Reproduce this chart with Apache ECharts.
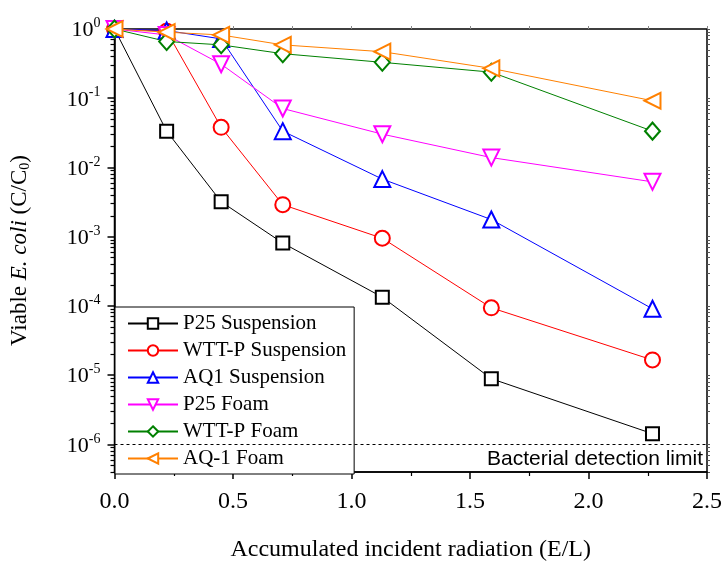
<!DOCTYPE html>
<html>
<head>
<meta charset="utf-8">
<script src="https://cdn.jsdelivr.net/npm/echarts@6/dist/echarts.min.js"></script>
<style>
  html, body { margin: 0; padding: 0; background: #fff; }
  #chart { width: 725px; height: 567px; }
</style>
</head>
<body>
<div id="chart"></div>
<script>
// radiation dose (E/L)
var doses = [0, 0.22, 0.45, 0.71, 1.13, 1.59, 2.27];

// viable fraction C/C0 per sample
var p25Susp = [1, 0.0335, 3.2e-3, 8.1e-4, 1.34e-4, 8.9e-6, 1.43e-6];
var wttSusp = [1, 0.93, 0.038, 2.9e-3, 9.5e-4, 9.4e-5, 1.66e-5];
var aq1Susp = [1, 0.95, 0.72, 0.0335, 6.8e-3, 1.77e-3, 9.1e-5];
var p25Foam = [1, 0.82, 0.31, 0.071, 0.0303, 0.0139, 6.2e-3];
var wttFoam = [1, 0.66, 0.59, 0.44, 0.33, 0.238, 0.0335];
var aq1Foam = [1, 0.9, 0.82, 0.59, 0.47, 0.27, 0.092];

var detectionLimit = 1e-6;
var decades = [1e-6, 1e-5, 1e-4, 1e-3, 1e-2, 1e-1, 1];
var xMin = 0, xMax = 2.5;
var yMin = 4e-7, yMax = 1;

// log minor tick positions (2..9 in every decade)
var minorVals = [];
for (var d = -7; d < 0; d++) {
  for (var m = 2; m <= 9; m++) {
    var v = m * Math.pow(10, d);
    if (v >= yMin && v <= yMax) minorVals.push(v);
  }
}

function pairs(ys) {
  return doses.map(function (x, i) { return [x, ys[i]]; });
}

var serif = 'Liberation Serif';

function mkSeries(name, ys, color, symbol, size, rotate) {
  return {
    name: name,
    type: 'line',
    data: pairs(ys),
    symbol: symbol,
    symbolSize: size,
    symbolRotate: rotate || 0,
    lineStyle: { color: color, width: 1 },
    itemStyle: { color: color, borderColor: color, borderWidth: 1.2 },
    emphasis: { disabled: true },
    z: 3
  };
}

var series = [
  mkSeries('P25 Suspension', p25Susp, '#000000', 'emptyRect', 13),
  mkSeries('WTT-P Suspension', wttSusp, '#ff0000', 'emptyCircle', 15),
  mkSeries('AQ1 Suspension', aq1Susp, '#0000ff', 'emptyTriangle', 16),
  mkSeries('P25 Foam', p25Foam, '#ff00ff', 'emptyTriangle', 16, 180),
  mkSeries('WTT-P Foam', wttFoam, '#008000', 'emptyDiamond', [15, 17]),
  mkSeries('AQ-1 Foam', aq1Foam, '#ff8000', 'emptyTriangle', 16, 90)
];

// detection limit line
series[0].markLine = {
  silent: true,
  animation: false,
  symbol: ['none', 'none'],
  lineStyle: { color: '#000', type: [3, 3], width: 1 },
  label: {
    show: true,
    position: 'insideEndBottom',
    formatter: 'Bacterial detection limit',
    fontFamily: 'Liberation Sans',
    fontSize: 21,
    color: '#000',
    distance: [4, 4]
  },
  data: [[{ coord: [xMin, detectionLimit] }, { coord: [xMax, detectionLimit] }]]
};

var chart = echarts.init(document.getElementById('chart'));

chart.setOption({
  backgroundColor: '#fff',
  animation: false,
  grid: {
    left: 109, right: 18, top: 29, bottom: 87,
    show: true, borderColor: '#000', borderWidth: 1.5
  },
  legend: {
    orient: 'vertical',
    left: 115,
    top: 307,
    backgroundColor: '#fff',
    borderColor: '#000',
    borderWidth: 1,
    borderRadius: 0,
    padding: [6, 8, 5, 12],
    itemWidth: 50,
    itemHeight: 13,
    itemGap: 6,
    textStyle: { fontFamily: serif, fontSize: 21, color: '#000' },
    data: series.map(function (s) { return s.name; })
  },
  xAxis: [{
    type: 'value',
    min: xMin, max: xMax, interval: 0.5,
    name: 'Accumulated incident radiation (E/L)',
    nameLocation: 'middle',
    nameGap: 66,
    nameTextStyle: { fontFamily: serif, fontSize: 24, color: '#000' },
    axisLine: { show: true, lineStyle: { color: '#000', width: 1.5 } },
    axisTick: { show: true, inside: false, length: 7, lineStyle: { color: '#000', width: 1.5 } },
    minorTick: { show: true, splitNumber: 2, length: 4, lineStyle: { color: '#000', width: 1.2 } },
    splitLine: { show: false },
    axisLabel: {
      margin: 18,
      fontFamily: serif, fontSize: 24, color: '#000',
      formatter: function (v) { return v.toFixed(1); }
    }
  }, {
    type: 'value',
    position: 'top',
    min: xMin, max: xMax, interval: 0.25,
    axisLine: { show: false },
    axisTick: { show: true, length: 3, lineStyle: { color: '#888', width: 1 } },
    axisLabel: { show: false },
    splitLine: { show: false }
  }],
  yAxis: [{
    type: 'log',
    logBase: 10,
    min: yMin, max: yMax,
    name: 'Viable {i|E. coli} (C/C{sub|0})',
    nameLocation: 'middle',
    nameGap: 82,
    nameRotate: 90,
    nameTextStyle: {
      fontFamily: serif, fontSize: 23, color: '#000',
      rich: {
        i: { fontFamily: serif, fontSize: 23, fontStyle: 'italic', color: '#000' },
        sub: { fontFamily: serif, fontSize: 14, color: '#000', verticalAlign: 'top', padding: [12, 0, 0, 0] }
      }
    },
    axisLine: { show: true, lineStyle: { color: '#000', width: 1.5 } },
    axisTick: { show: true, length: 7, customValues: decades, lineStyle: { color: '#000', width: 1.5 } },
    splitLine: { show: false },
    axisLabel: {
      margin: 14,
      customValues: decades,
      formatter: function (v) {
        var e = Math.round(Math.log10(v));
        return '{b|10}{s|' + e + '}';
      },
      rich: {
        b: { fontFamily: serif, fontSize: 22, color: '#000', verticalAlign: 'bottom' },
        s: { fontFamily: serif, fontSize: 14, color: '#000', verticalAlign: 'bottom', padding: [0, 0, 11, 0] }
      }
    }
  }, {
    type: 'log',
    logBase: 10,
    min: yMin, max: yMax,
    position: 'left',
    axisLine: { show: false },
    axisTick: { show: true, length: 4, customValues: minorVals, lineStyle: { color: '#000', width: 1.2 } },
    axisLabel: { show: false },
    splitLine: { show: false }
  }, {
    type: 'log',
    logBase: 10,
    min: yMin, max: yMax,
    position: 'right',
    axisLine: { show: false },
    axisTick: { show: true, length: 3, customValues: minorVals.concat(decades), lineStyle: { color: '#555', width: 1 } },
    axisLabel: { show: false },
    splitLine: { show: false }
  }],
  series: series
});
</script>
</body>
</html>
